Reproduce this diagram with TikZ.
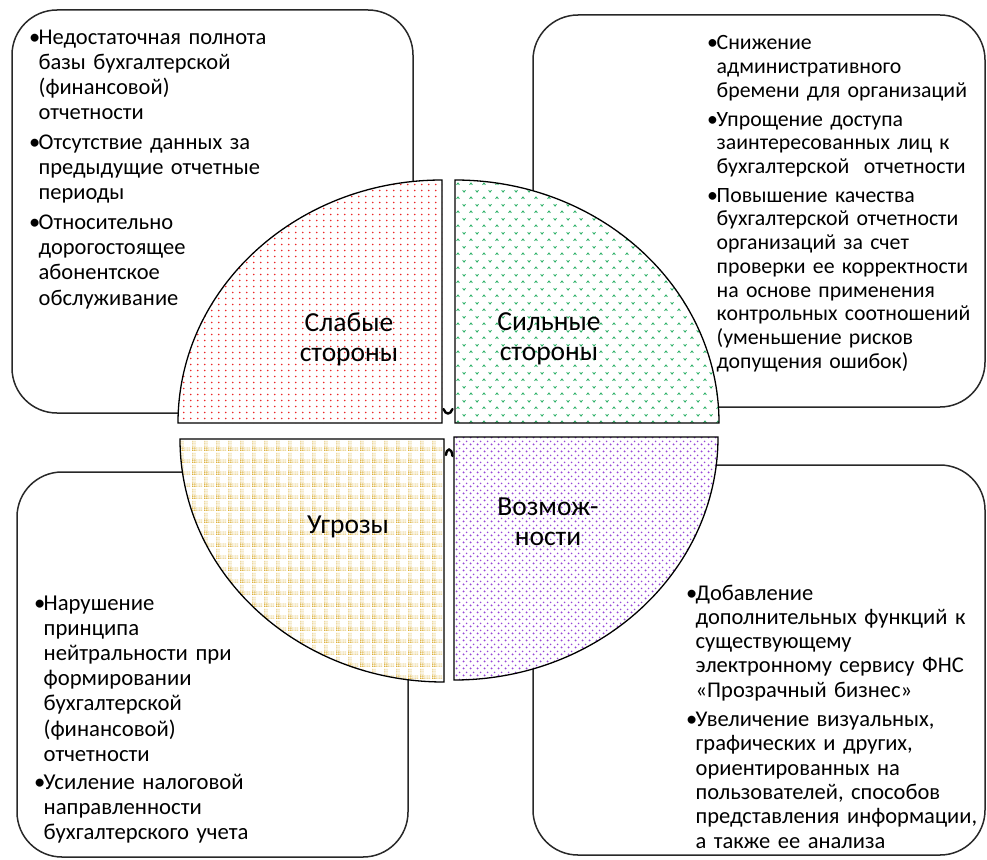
\documentclass[tikz,border=0pt]{standalone}
\usepackage{fontspec}
\setmainfont{Carlito}
\usetikzlibrary{patterns.meta}
\definecolor{cred}{RGB}{235,40,40}
\definecolor{cgreen}{RGB}{40,175,100}
\definecolor{cyellow}{RGB}{215,165,30}
\definecolor{cpurple}{RGB}{150,70,215}
\definecolor{edge}{RGB}{40,40,40}
\tikzdeclarepattern{
  name=swdots, type=uncolored,
  bounding box={(0pt,0pt) and (7pt,6pt)},
  tile size={(7pt,6pt)},
  code={\fill (2pt,3pt) circle (1pt);}
}
\tikzdeclarepattern{
  name=swcarets, type=uncolored,
  bounding box={(0pt,0pt) and (13pt,14pt)},
  tile size={(13pt,14pt)},
  code={\draw[line width=0.9pt] (1.7pt,2.3pt) -- (3.2pt,4.3pt) -- (4.7pt,2.3pt);
        \draw[line width=0.9pt] (8.2pt,11.5pt) -- (9.7pt,9.5pt) -- (11.2pt,11.5pt);}
}
\tikzdeclarepattern{
  name=swgrid, type=uncolored,
  bounding box={(0pt,0pt) and (12pt,12pt)},
  tile size={(12pt,12pt)},
  code={\draw[line width=1pt, dash pattern=on 1pt off 1pt] (0pt,1pt) -- (12pt,1pt);
        \draw[line width=1pt, dash pattern=on 1pt off 1pt] (1pt,0pt) -- (1pt,12pt);
        \draw[line width=0.8pt, dash pattern=on 1pt off 1pt] (0pt,3.2pt) -- (12pt,3.2pt);
        \draw[line width=0.8pt, dash pattern=on 1pt off 1pt] (3.2pt,0pt) -- (3.2pt,12pt);}
}
\tikzdeclarepattern{
  name=swdiag, type=uncolored,
  bounding box={(0pt,0pt) and (7pt,7pt)},
  tile size={(7pt,7pt)},
  code={\fill (1.75pt,1.75pt) circle (1.15pt); \fill (5.25pt,5.25pt) circle (1pt);}
}
\newlength\swbulw
\setlength\swbulw{9.5pt}
\newcommand\swbul[1]{\hangindent=\swbulw\hangafter=1\noindent\makebox[\swbulw][l]{•}#1\par}
\begin{document}
\begin{tikzpicture}[x=1pt,y=-1pt,
  box/.style={draw=edge, line width=1.5pt, rounded corners=45pt, fill=white, inner sep=0pt},
  quad/.style={draw=black, line width=1.3pt, preaction={fill=white}},
  txt/.style={anchor=base west, inner sep=0pt, align=left, text width=#1},
  lbl/.style={anchor=base, inner sep=0pt, align=center, text width=150pt,
    font=\fontsize{27.5}{30}\selectfont},
  conn/.style={draw=black, line width=2.4pt, line cap=round}]
\useasboundingbox (0,0) rectangle (987,859);
\fill[white] (0,0) rectangle (987,859);
% boxes
\node[box, minimum width=401pt, minimum height=403pt] (tlbox) at (212.5,211.5) {};
\node[box, minimum width=452pt, minimum height=392pt] (trbox) at (759,211) {};
\node[box, minimum width=391pt, minimum height=385pt] (blbox) at (212.5,664.5) {};
\node[box, minimum width=452pt, minimum height=390pt] (brbox) at (759,660) {};
% quadrants
\path[quad, pattern={swdots}, pattern color=cred]
  (442,423) -- (442,180) arc[start angle=-90, end angle=-180, x radius=264, y radius=243] -- cycle;
\path[quad, pattern={swcarets}, pattern color=cgreen]
  (455,423) -- (455,180) arc[start angle=-90, end angle=0, x radius=264, y radius=243] -- cycle;
\path[quad, pattern={swgrid}, pattern color=cyellow]
  (444,439) -- (180,439) arc[start angle=180, end angle=90, x radius=264, y radius=243] -- cycle;
\path[quad, pattern={swdiag}, pattern color=cpurple]
  (454,437) -- (718,437) arc[start angle=0, end angle=90, x radius=264, y radius=243] -- cycle;
% labels
\node[lbl] (weak) at (349,331) {Слабые\\стороны};
\node[lbl] (strong) at (549,330) {Сильные\\стороны};
\node[lbl] (threat) at (348,533) {Угрозы};
\node[lbl] (opp) at (548,515) {Возмож-\\ности};
% small connectors
\coordinate (c1a) at (443.5,409);
\coordinate (c1b) at (452.5,409);
\draw[conn] (c1a) .. controls (445.5,415) and (450.5,415) .. (c1b);
\coordinate (c2a) at (446,455);
\coordinate (c2b) at (452.5,456);
\draw[conn] (c2a) .. controls (446.5,448) and (451.5,447) .. (c2b);
% texts
\node[txt=340pt, font=\fontsize{22.5}{25}\selectfont] (tltext) at (29,45) {\setlength\parskip{5pt}%
\swbul{Недостаточная полнота\newline базы бухгалтерской\newline (финансовой)\newline отчетности}%
\swbul{Отсутствие данных за\newline предыдущие отчетные\newline периоды}%
\swbul{Относительно\newline дорогостоящее\newline абонентское\newline обслуживание}};
\node[txt=275pt, font=\fontsize{21.8}{23.7}\selectfont] (trtext) at (707,50) {\setlength\parskip{5pt}%
\swbul{Снижение\newline административного\newline бремени для организаций}%
\swbul{Упрощение доступа\newline заинтересованных лиц к\newline бухгалтерской\ \ отчетности}%
\swbul{Повышение качества\newline бухгалтерской отчетности\newline организаций за счет\newline проверки ее корректности\newline на основе применения\newline контрольных соотношений\newline (уменьшение рисков\newline допущения ошибок)}};
\node[txt=350pt, font=\fontsize{22.7}{25.2}\selectfont] (bltext) at (34,610) {\setlength\parskip{3pt}%
\swbul{Нарушение\newline принципа\newline нейтральности при\newline формировании\newline бухгалтерской\newline (финансовой)\newline отчетности}%
\swbul{Усиление налоговой\newline направленности\newline бухгалтерского учета}};
\node[txt=300pt, font=\fontsize{22.5}{24.3}\selectfont] (brtext) at (686,600) {\setlength\parskip{5pt}%
\swbul{Добавление\newline дополнительных функций к\newline существующему\newline электронному сервису ФНС\newline «Прозрачный бизнес»}%
\swbul{Увеличение визуальных,\newline графических и других,\newline ориентированных на\newline пользователей, способов\newline представления информации,\newline а также ее анализа}};
\end{tikzpicture}
\end{document}
